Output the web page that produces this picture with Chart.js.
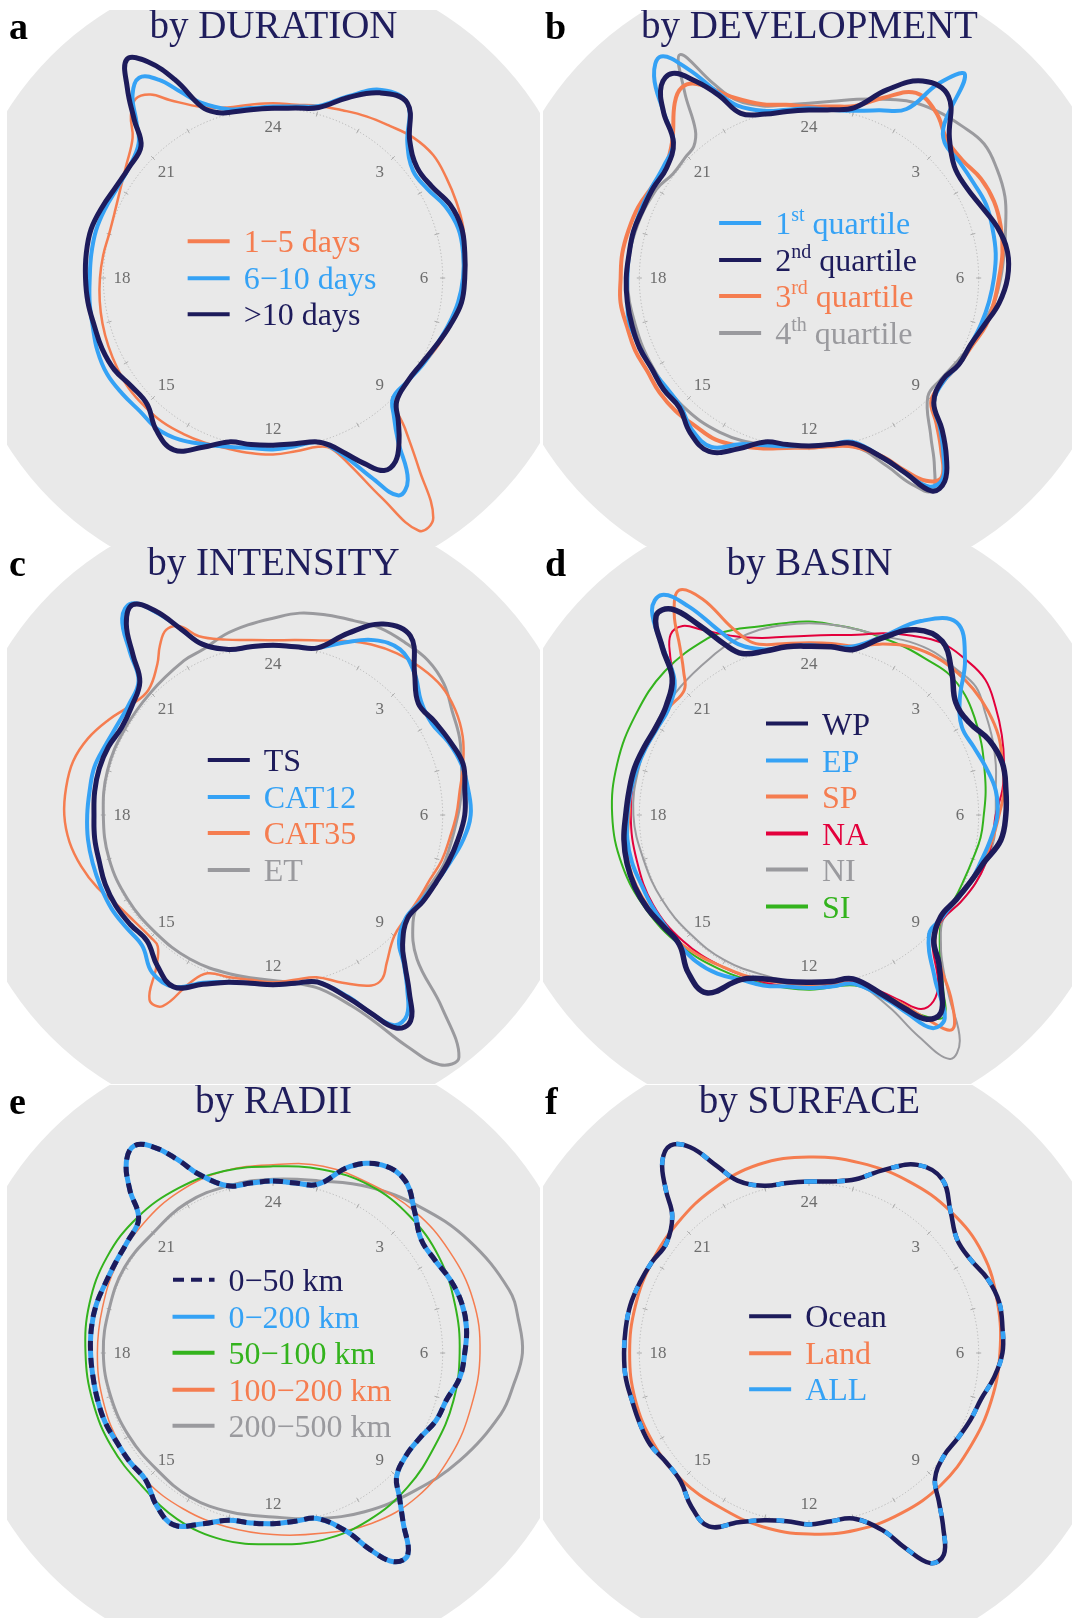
<!DOCTYPE html>
<html>
<head>
<meta charset="utf-8">
<title>Diurnal cycle by category</title>
<script src="https://cdn.jsdelivr.net/npm/chart.js@4.4.1/dist/chart.umd.min.js"></script>
<style>
  html, body { margin: 0; padding: 0; background: #ffffff; }
  body { position: relative; width: 1072px; height: 1618px; overflow: hidden;
         font-family: "Liberation Serif", "Times New Roman", serif; }
  .panel { position: absolute; width: 533px; height: 537px; overflow: hidden; }
  .panel canvas { position: absolute; left: 0; top: 0; }
  .letter { position: absolute; left: 2px; top: -3px; font-size: 38px; line-height: 38px; font-weight: bold; color: #000; }
  .title { position: absolute; left: 0; top: -5px; width: 533px; text-align: center; font-size: 39px; line-height: 39px; color: #1f1d5c; white-space: nowrap; }
  .legend { position: absolute; left: 275px; top: 268px; transform: translate(-50%, -50%); }
  .row { display: flex; align-items: center; height: 36.5px; font-size: 32px; line-height: 36.5px; white-space: nowrap; }
  .swatch { width: 42px; height: 4px; margin-right: 14px; flex: none; }
  .row sup { font-size: 20px; line-height: 0; vertical-align: 13px; }
</style>
</head>
<body>
<script>
// ---- data: radius of each diurnal curve as [hour, r] pairs
// (r = 1 is the dotted hour ring)

const clockHours = [24, 3, 6, 9, 12, 15, 18, 21];

// a: by DURATION
const durationNames = ['1\u22125 days', '6\u221210 days', '>10 days'];
const dur1to5 = [[0,1.03],[0.5,1.03],[1,1.05],[1.5,1.07],[2,1.10],[2.5,1.13],[3,1.17],[3.5,1.19],[4,1.18],[4.5,1.17],[5,1.16],[5.5,1.14],[6,1.12],[6.5,1.10],[7,1.08],[7.5,1.05],[8,1.02],[8.5,1.00],[9,1.01],[9.25,1.18],[9.5,1.41],[9.75,1.70],[10,1.72],[10.25,1.44],[10.5,1.20],[10.75,1.06],[11,1.03],[11.5,1.03],[12,1.04],[12.5,1.04],[13,1.04],[13.5,1.05],[14,1.06],[14.5,1.07],[15,1.07],[15.5,1.07],[16,1.06],[16.5,1.05],[17,1.04],[17.5,1.03],[18,1.02],[18.5,1.01],[19,1.00],[19.5,1.01],[20,1.04],[20.5,1.09],[21,1.17],[21.25,1.27],[21.5,1.33],[21.75,1.30],[22,1.21],[22.5,1.09],[23,1.04],[23.5,1.03]];
const dur6to10 = [[0,1.01],[0.5,1.02],[1,1.05],[1.5,1.16],[2,1.28],[2.5,1.30],[3,1.12],[3.5,1.04],[4,1.05],[4.5,1.10],[5,1.13],[5.5,1.13],[6,1.12],[6.5,1.10],[7,1.07],[7.5,1.04],[8,1.02],[8.5,1.00],[9,1.00],[9.25,1.08],[9.5,1.21],[9.75,1.43],[10,1.48],[10.25,1.31],[10.5,1.15],[10.75,1.05],[11,1.00],[11.5,1.00],[12,1.01],[12.5,1.01],[13,1.03],[13.5,1.06],[14,1.10],[14.5,1.12],[15,1.11],[15.5,1.12],[16,1.13],[16.5,1.12],[17,1.10],[17.5,1.09],[18,1.08],[18.5,1.08],[19,1.08],[19.5,1.07],[20,1.06],[20.5,1.07],[21,1.12],[21.25,1.22],[21.5,1.36],[21.75,1.42],[22,1.35],[22.25,1.22],[22.5,1.12],[23,1.03],[23.5,1.01]];
const dur10plus = [[0,1.00],[0.5,1.01],[1,1.04],[1.5,1.15],[2,1.26],[2.5,1.30],[3,1.14],[3.5,1.07],[4,1.08],[4.5,1.13],[5,1.15],[5.5,1.14],[6,1.13],[6.5,1.12],[7,1.08],[7.5,1.04],[8,1.01],[8.5,1.00],[9,1.03],[9.25,1.12],[9.5,1.22],[9.75,1.30],[10,1.31],[10.25,1.22],[10.5,1.12],[10.75,1.04],[11,1.00],[11.5,0.985],[12,0.985],[12.5,0.99],[13,1.00],[13.5,1.08],[14,1.17],[14.5,1.13],[15,1.05],[15.5,1.05],[16,1.08],[16.5,1.09],[17,1.09],[17.5,1.10],[18,1.105],[18.5,1.11],[19,1.11],[19.5,1.09],[20,1.07],[20.5,1.07],[21,1.10],[21.25,1.24],[21.5,1.41],[21.75,1.55],[22,1.47],[22.25,1.30],[22.5,1.09],[22.75,1.03],[23,1.01],[23.5,1.00]];

// b: by DEVELOPMENT
const devNames = ['1st quartile', '2nd quartile', '3rd quartile', '4th quartile'];
const devQ1 = [[0,1.00],[0.5,1.00],[1,1.02],[1.5,1.07],[2,1.15],[2.25,1.38],[2.5,1.51],[2.75,1.21],[3,1.13],[3.5,1.12],[4,1.12],[4.5,1.13],[5,1.12],[5.5,1.11],[6,1.09],[6.5,1.07],[7,1.05],[7.5,1.03],[8,1.02],[8.5,1.00],[9,1.04],[9.25,1.17],[9.5,1.30],[9.75,1.42],[10,1.42],[10.25,1.28],[10.5,1.15],[11,1.00],[11.5,0.99],[12,0.99],[12.5,1.00],[13,1.02],[13.5,1.06],[14,1.15],[14.5,1.13],[15,1.07],[15.5,1.06],[16,1.07],[17,1.09],[17.5,1.08],[18,1.07],[18.5,1.07],[19,1.07],[19.5,1.07],[20,1.07],[20.5,1.08],[21,1.13],[21.25,1.30],[21.5,1.50],[21.75,1.57],[22,1.42],[22.25,1.22],[22.5,1.10],[23,1.02],[23.5,1.00]];
const devQ2 = [[0,0.99],[0.5,1.00],[1,1.04],[1.5,1.20],[2,1.34],[2.5,1.35],[3,1.17],[3.5,1.08],[4,1.07],[4.5,1.10],[5,1.15],[5.5,1.18],[6,1.17],[6.5,1.13],[7,1.07],[7.5,1.03],[8,1.02],[8.5,0.99],[9,1.04],[9.25,1.19],[9.5,1.33],[9.75,1.44],[10,1.45],[10.25,1.28],[10.5,1.15],[11,1.01],[11.5,0.99],[12,0.99],[12.5,0.99],[13,1.00],[13.5,1.09],[14,1.18],[14.5,1.15],[15,1.08],[15.5,1.08],[16,1.07],[16.5,1.08],[17,1.08],[17.5,1.08],[18,1.077],[18.5,1.07],[19,1.07],[19.5,1.06],[20,1.06],[20.5,1.06],[21,1.13],[21.25,1.30],[21.5,1.43],[21.75,1.45],[22,1.34],[22.25,1.20],[22.5,1.05],[23,1.00],[23.5,0.99]];
const devQ3 = [[0,1.01],[0.5,1.02],[1,1.05],[1.5,1.15],[2,1.26],[2.5,1.23],[3,1.15],[3.5,1.14],[4,1.17],[4.5,1.18],[5,1.17],[5.5,1.15],[6,1.12],[6.5,1.10],[7,1.08],[7.5,1.04],[8,1.02],[8.5,1.00],[9,1.02],[9.25,1.14],[9.5,1.28],[9.75,1.41],[10,1.38],[10.25,1.26],[10.5,1.14],[11,1.03],[11.5,1.00],[12,1.00],[12.5,1.01],[13,1.04],[13.5,1.07],[14,1.10],[14.5,1.10],[15,1.11],[15.5,1.11],[16,1.10],[16.5,1.11],[17,1.11],[17.5,1.12],[18,1.11],[18.5,1.11],[19,1.10],[19.5,1.09],[20,1.07],[20.5,1.07],[21,1.14],[21.5,1.30],[21.75,1.35],[22,1.32],[22.5,1.15],[23,1.06],[23.5,1.03]];
const devQ4 = [[0,1.03],[0.5,1.05],[1,1.09],[1.5,1.14],[2,1.20],[2.5,1.24],[3,1.27],[3.5,1.30],[4,1.28],[4.5,1.25],[5,1.20],[5.5,1.16],[6,1.13],[6.5,1.10],[7,1.06],[7.5,1.03],[8,1.00],[8.5,0.98],[9,0.99],[9.5,1.18],[9.75,1.33],[10,1.45],[10.25,1.35],[10.5,1.20],[11,1.03],[12,1.00],[13,1.02],[14,1.05],[15,1.06],[16,1.06],[17,1.06],[18,1.07],[19,1.06],[20,1.04],[20.5,1.01],[21,1.02],[21.25,1.03],[21.5,1.10],[21.75,1.32],[22,1.52],[22.25,1.28],[22.5,1.14],[23,1.05],[23.5,1.03]];

// c: by INTENSITY
const intensityNames = ['TS', 'CAT12', 'CAT35', 'ET'];
const intTS = [[0,1.00],[0.5,1.00],[1,1.02],[1.5,1.16],[2,1.30],[2.5,1.33],[3,1.18],[3.5,1.08],[4,1.10],[4.5,1.13],[5,1.16],[5.5,1.14],[6,1.13],[6.5,1.10],[7,1.07],[7.5,1.04],[8,1.02],[8.5,1.00],[9,1.08],[9.25,1.18],[9.5,1.32],[9.75,1.46],[10,1.45],[10.25,1.30],[10.5,1.17],[11,1.02],[11.5,1.00],[12,1.00],[12.5,1.00],[13,1.02],[13.5,1.08],[14,1.17],[14.5,1.12],[15,1.05],[15.5,1.06],[16,1.07],[16.5,1.07],[17,1.06],[17.5,1.06],[18,1.055],[18.5,1.06],[19,1.06],[19.5,1.05],[20,1.03],[20.5,1.05],[21,1.11],[21.25,1.25],[21.5,1.42],[21.75,1.49],[22,1.39],[22.25,1.22],[22.5,1.09],[23,1.01],[23.5,1.00]];
const intCAT12 = [[0,1.00],[0.5,1.00],[1,1.02],[1.5,1.10],[2,1.19],[2.5,1.23],[3,1.18],[3.5,1.10],[4,1.08],[4.5,1.12],[5,1.15],[5.5,1.16],[6,1.165],[6.5,1.13],[7,1.08],[7.5,1.04],[8,1.01],[8.5,0.99],[9,1.05],[9.25,1.17],[9.5,1.30],[9.75,1.42],[10,1.43],[10.25,1.30],[10.5,1.16],[11,1.02],[11.5,1.00],[12,1.00],[12.5,1.00],[13,1.02],[13.5,1.07],[14,1.17],[14.5,1.17],[15,1.09],[15.5,1.09],[16,1.10],[16.5,1.10],[17,1.10],[17.5,1.10],[18,1.095],[18.5,1.09],[19,1.09],[19.5,1.07],[20,1.06],[20.5,1.07],[21,1.12],[21.25,1.28],[21.5,1.46],[21.75,1.50],[22,1.38],[22.25,1.22],[22.5,1.09],[23,1.01],[23.5,1.00]];
const intCAT35 = [[0,1.03],[0.5,1.04],[1,1.065],[1.5,1.11],[2,1.16],[2.5,1.20],[3,1.23],[3.5,1.25],[4,1.24],[4.5,1.21],[5,1.16],[5.5,1.11],[6,1.08],[6.5,1.05],[7,1.03],[7.5,1.00],[8,0.99],[8.5,0.99],[9,1.01],[9.5,1.10],[9.75,1.16],[10,1.16],[10.5,1.07],[11,0.99],[11.5,0.98],[12,0.985],[12.5,0.98],[13,0.99],[13.5,1.01],[13.75,1.10],[14,1.30],[14.25,1.31],[14.5,1.13],[14.75,1.03],[15,1.02],[15.5,1.03],[16,1.06],[16.5,1.12],[17,1.17],[17.5,1.21],[18,1.23],[18.5,1.23],[19,1.22],[19.5,1.18],[20,1.12],[20.5,1.06],[21,1.04],[21.5,1.12],[21.75,1.20],[22,1.26],[22.25,1.24],[22.5,1.14],[23,1.07],[23.5,1.04]];
const intET = [[0,1.16],[0.5,1.20],[1,1.22],[1.5,1.24],[2,1.27],[2.5,1.28],[3,1.29],[3.5,1.27],[4,1.22],[4.5,1.19],[5,1.15],[5.5,1.12],[6,1.09],[7,1.05],[7.5,1.02],[8,1.00],[8.5,1.04],[9,1.20],[9.25,1.51],[9.5,1.80],[9.75,1.77],[10,1.57],[10.25,1.36],[10.5,1.22],[11,1.06],[11.5,1.00],[12,0.975],[13,0.97],[14,0.98],[15,0.98],[16,0.99],[17,1.00],[18,1.00],[19,1.01],[20,1.01],[21,1.02],[22,1.05],[22.5,1.06],[23,1.10],[23.5,1.13]];

// d: by BASIN
const basinNames = ['WP', 'EP', 'SP', 'NA', 'NI', 'SI'];
const basinWP = [[0,0.995],[0.5,1.00],[1,1.01],[1.5,1.13],[2,1.26],[2.5,1.29],[3,1.19],[3.5,1.09],[4,1.09],[4.5,1.15],[5,1.18],[5.5,1.17],[6,1.16],[6.5,1.14],[7,1.07],[7.5,1.03],[8,1.00],[8.5,0.98],[9,1.04],[9.25,1.16],[9.5,1.28],[9.75,1.40],[10,1.39],[10.25,1.27],[10.5,1.15],[11,1.00],[11.5,0.99],[12,0.985],[12.5,0.99],[13,1.00],[13.5,1.05],[14,1.21],[14.5,1.17],[15,1.08],[15.5,1.08],[16,1.10],[16.5,1.11],[17,1.11],[17.5,1.10],[18,1.08],[18.5,1.07],[19,1.065],[19.5,1.05],[20,1.04],[20.5,1.06],[21,1.14],[21.25,1.31],[21.5,1.48],[21.75,1.46],[22,1.29],[22.25,1.12],[22.5,1.03],[23,1.00],[23.5,1.00]];
const basinEP = [[0,1.00],[0.5,1.00],[1,1.03],[1.5,1.14],[2,1.32],[2.5,1.43],[3,1.30],[3.5,1.12],[4,1.04],[4.5,1.05],[5,1.08],[5.5,1.11],[6,1.11],[6.5,1.08],[7,1.05],[7.5,1.03],[8,1.00],[8.5,0.99],[9,1.00],[9.5,1.22],[9.75,1.44],[10,1.45],[10.25,1.30],[10.5,1.17],[11,1.03],[11.5,1.02],[12,1.02],[12.5,1.02],[13,1.04],[13.5,1.05],[14,1.08],[14.5,1.09],[15,1.08],[15.5,1.07],[16,1.07],[16.5,1.07],[17,1.08],[17.5,1.08],[18,1.07],[18.5,1.06],[19,1.05],[19.5,1.04],[20,1.03],[20.5,1.04],[21,1.12],[21.25,1.30],[21.5,1.52],[21.75,1.56],[22,1.42],[22.25,1.22],[22.5,1.09],[23,1.01],[23.5,1.00]];
const basinSP = [[0,1.015],[0.5,1.02],[1,1.03],[1.5,1.09],[2,1.15],[2.5,1.19],[3,1.21],[3.5,1.22],[4,1.22],[4.5,1.21],[5,1.18],[5.5,1.16],[6,1.12],[6.5,1.09],[7,1.06],[7.5,1.03],[8,1.00],[8.5,0.99],[9,1.05],[9.25,1.17],[9.5,1.38],[9.75,1.52],[10,1.39],[10.25,1.24],[10.5,1.15],[11,1.03],[11.5,1.00],[12,1.00],[12.5,1.00],[13,1.01],[13.5,1.02],[14,1.03],[14.5,1.05],[15,1.07],[15.5,1.08],[16,1.09],[16.5,1.10],[17,1.10],[17.5,1.08],[18,1.06],[18.5,1.06],[19,1.06],[19.5,1.05],[20,1.04],[20.5,1.04],[21,1.04],[21.25,1.12],[21.5,1.25],[21.75,1.43],[22,1.53],[22.25,1.42],[22.5,1.20],[22.75,1.08],[23,1.04],[23.5,1.02]];
const basinNA = [[0,1.057],[0.5,1.07],[1,1.10],[1.5,1.16],[2,1.22],[2.5,1.28],[3,1.30],[3.5,1.31],[4,1.27],[4.5,1.23],[5,1.19],[5.5,1.15],[6,1.10],[6.5,1.09],[7,1.08],[7.5,1.06],[8,1.03],[8.5,1.00],[9,1.03],[9.5,1.25],[9.75,1.32],[10,1.32],[10.25,1.22],[10.5,1.13],[11,1.02],[12,1.02],[13,1.02],[14,1.03],[15,1.05],[16,1.06],[17,1.05],[18,1.05],[19,1.05],[20,1.03],[20.5,1.05],[21,1.13],[21.25,1.24],[21.5,1.34],[21.75,1.34],[22,1.26],[22.5,1.14],[23,1.08],[23.5,1.06]];
const basinNI = [[0,1.13],[0.5,1.13],[1,1.13],[1.5,1.14],[2,1.18],[2.5,1.21],[3,1.22],[3.5,1.24],[4,1.20],[4.5,1.17],[5,1.14],[5.5,1.11],[6,1.10],[6.5,1.10],[7,1.08],[7.5,1.06],[8,1.03],[8.5,1.00],[9,1.10],[9.25,1.20],[9.5,1.36],[9.75,1.60],[10,1.66],[10.25,1.45],[10.5,1.22],[11,1.03],[12,1.00],[13,0.98],[14,0.99],[15,0.99],[16,1.00],[17,1.01],[18,1.035],[19,1.04],[20,1.05],[21,1.07],[22,1.10],[22.5,1.12],[23,1.13],[23.5,1.13]];
const basinSI = [[0,1.14],[0.5,1.13],[1,1.13],[1.5,1.13],[2,1.14],[2.5,1.15],[3,1.17],[3.5,1.16],[4,1.13],[4.5,1.10],[5,1.07],[5.5,1.05],[6,1.03],[6.5,1.02],[7,1.00],[7.5,0.99],[8,0.99],[8.5,0.99],[9,1.09],[9.5,1.30],[9.75,1.43],[10,1.37],[10.5,1.16],[11,1.04],[12,1.03],[13,1.03],[14,1.05],[15,1.08],[16,1.11],[17,1.14],[18,1.16],[19,1.17],[20,1.18],[21,1.20],[22,1.20],[22.5,1.18],[23,1.15],[23.5,1.14]];

// e: by RADII
const radiiNames = ['0\u221250 km', '0\u2212200 km', '50\u2212100 km', '100\u2212200 km', '200\u2212500 km'];
const radii0to50 = [[0,1.014],[0.5,1.01],[1,1.03],[1.5,1.19],[2,1.28],[2.5,1.28],[3,1.18],[3.5,1.10],[4,1.10],[4.5,1.13],[5,1.15],[5.5,1.15],[6,1.13],[6.5,1.11],[7,1.06],[7.5,1.04],[8,1.00],[8.5,0.99],[9,1.03],[9.25,1.13],[9.5,1.26],[9.75,1.43],[10,1.42],[10.25,1.29],[10.5,1.14],[11,1.01],[11.5,1.00],[12,1.006],[12.5,1.01],[13,1.02],[13.5,1.09],[14,1.17],[14.5,1.13],[15,1.06],[15.5,1.06],[16,1.06],[16.5,1.07],[17,1.07],[17.5,1.07],[18,1.075],[18.5,1.08],[19,1.08],[19.5,1.07],[20,1.07],[20.5,1.08],[21,1.12],[21.25,1.28],[21.5,1.42],[21.75,1.47],[22,1.40],[22.25,1.27],[22.5,1.14],[23,1.02],[23.5,1.01]];
const radii0to200 = [[0,1.014],[0.5,1.01],[1,1.03],[1.5,1.19],[2,1.28],[2.5,1.28],[3,1.18],[3.5,1.10],[4,1.10],[4.5,1.13],[5,1.15],[5.5,1.15],[6,1.13],[6.5,1.11],[7,1.06],[7.5,1.04],[8,1.00],[8.5,0.99],[9,1.03],[9.25,1.13],[9.5,1.26],[9.75,1.43],[10,1.42],[10.25,1.29],[10.5,1.14],[11,1.01],[11.5,1.00],[12,1.006],[12.5,1.01],[13,1.02],[13.5,1.09],[14,1.17],[14.5,1.13],[15,1.06],[15.5,1.06],[16,1.06],[16.5,1.07],[17,1.07],[17.5,1.07],[18,1.075],[18.5,1.08],[19,1.08],[19.5,1.07],[20,1.07],[20.5,1.08],[21,1.12],[21.25,1.28],[21.5,1.42],[21.75,1.47],[22,1.40],[22.25,1.27],[22.5,1.14],[23,1.02],[23.5,1.01]];
const radii50to100 = [[0,1.10],[1,1.12],[2,1.14],[3,1.14],[4,1.13],[5,1.11],[6,1.10],[7,1.10],[8,1.10],[9,1.12],[10,1.135],[11,1.14],[12,1.127],[13,1.14],[14,1.13],[15,1.10],[16,1.10],[17,1.10],[18,1.105],[19,1.12],[20,1.13],[21,1.13],[22,1.12],[23,1.11]];
const radii100to200 = [[0,1.11],[1,1.14],[2,1.15],[3,1.18],[4,1.20],[5,1.22],[6,1.22],[7,1.21],[8,1.21],[9,1.20],[10,1.16],[11,1.10],[12,1.07],[13,1.06],[14,1.06],[15,1.06],[16,1.05],[17,1.04],[18,1.035],[19,1.04],[20,1.06],[21,1.08],[22,1.10],[23,1.11]];
const radii200to500 = [[0,1.024],[1,1.05],[2,1.13],[3,1.22],[4,1.33],[5,1.44],[5.5,1.46],[6,1.47],[6.5,1.43],[7,1.39],[8,1.27],[9,1.16],[10,1.08],[11,1.01],[12,0.966],[13,0.97],[14,0.98],[15,0.97],[16,0.98],[17,0.99],[18,1.00],[19,1.00],[20,1.01],[21,1.00],[22,1.02],[23,1.02]];

// f: by SURFACE
const surfaceNames = ['Ocean', 'Land', 'ALL'];
const surfOcean = [[0,1.01],[0.5,1.02],[1,1.06],[1.5,1.17],[2,1.28],[2.5,1.29],[3,1.18],[3.5,1.10],[4,1.10],[4.5,1.14],[5,1.16],[5.5,1.15],[6,1.14],[6.5,1.10],[7,1.05],[7.5,1.03],[8,1.01],[8.5,1.00],[9,1.05],[9.25,1.16],[9.5,1.30],[9.75,1.43],[10,1.43],[10.25,1.28],[10.5,1.13],[11,1.01],[11.5,1.00],[12,1.01],[12.5,1.00],[13,1.02],[13.5,1.08],[14,1.18],[14.5,1.14],[15,1.07],[15.5,1.06],[16,1.08],[16.5,1.08],[17,1.08],[17.5,1.09],[18,1.09],[18.5,1.09],[19,1.09],[19.5,1.08],[20,1.07],[20.5,1.06],[21,1.14],[21.25,1.28],[21.5,1.42],[21.75,1.47],[22,1.40],[22.25,1.23],[22.5,1.10],[23,1.02],[23.5,1.01]];
const surfLand = [[0,1.155],[1,1.16],[2,1.17],[3,1.18],[4,1.18],[5,1.15],[6,1.125],[7,1.11],[8,1.10],[9,1.10],[10,1.09],[11,1.08],[12,1.067],[13,1.06],[14,1.05],[15,1.06],[16,1.06],[17,1.06],[18,1.057],[19,1.06],[20,1.07],[21,1.09],[22,1.12],[23,1.15]];
const surfAll = [[0,1.01],[0.5,1.02],[1,1.06],[1.5,1.17],[2,1.28],[2.5,1.29],[3,1.18],[3.5,1.10],[4,1.10],[4.5,1.14],[5,1.16],[5.5,1.15],[6,1.14],[6.5,1.10],[7,1.05],[7.5,1.03],[8,1.01],[8.5,1.00],[9,1.05],[9.25,1.16],[9.5,1.30],[9.75,1.43],[10,1.43],[10.25,1.28],[10.5,1.13],[11,1.01],[11.5,1.00],[12,1.01],[12.5,1.00],[13,1.02],[13.5,1.08],[14,1.18],[14.5,1.14],[15,1.07],[15.5,1.06],[16,1.08],[16.5,1.08],[17,1.08],[17.5,1.09],[18,1.09],[18.5,1.09],[19,1.09],[19.5,1.08],[20,1.07],[20.5,1.06],[21,1.14],[21.25,1.28],[21.5,1.42],[21.75,1.47],[22,1.40],[22.25,1.23],[22.5,1.10],[23,1.02],[23.5,1.01]];

// ---- look
const NAVY = '#1d1b5b';
const BLUE = '#35a2f5';
const ORANGE = '#f57d50';
const GRAY = '#9a9a9e';
const RED = '#e3003c';
const GREEN = '#33b31d';

const PANEL_W = 533, PANEL_H = 537;
const RING_PX = 170;        // pixel radius of the dotted hour ring (r = 1)
const DISC_R = 1.85;        // grey background disc, in ring units
const LABEL_R = 0.89;       // where the hour numbers sit
const SLOTS_PER_HOUR = 4;   // one angular slot every quarter hour
const slotHours = Array.from({ length: 24 * SLOTS_PER_HOUR }, (_, i) => i / SLOTS_PER_HOUR);

const panels = [
  { letter: 'a', title: 'by DURATION', left: 7, top: 10, series: [
    { name: durationNames[0], values: dur1to5, color: ORANGE, width: 2.5, order: 2 },
    { name: durationNames[1], values: dur6to10, color: BLUE, width: 4, order: 1 },
    { name: durationNames[2], values: dur10plus, color: NAVY, width: 5, order: 0 } ] },
  { letter: 'b', title: 'by DEVELOPMENT', left: 543, top: 10, series: [
    { name: devNames[0], values: devQ1, color: BLUE, width: 4, order: 1 },
    { name: devNames[1], values: devQ2, color: NAVY, width: 5, order: 0 },
    { name: devNames[2], values: devQ3, color: ORANGE, width: 4, order: 2 },
    { name: devNames[3], values: devQ4, color: GRAY, width: 3, order: 3 } ] },
  { letter: 'c', title: 'by INTENSITY', left: 7, top: 547, series: [
    { name: intensityNames[0], values: intTS, color: NAVY, width: 5, order: 0 },
    { name: intensityNames[1], values: intCAT12, color: BLUE, width: 4, order: 1 },
    { name: intensityNames[2], values: intCAT35, color: ORANGE, width: 2.5, order: 2 },
    { name: intensityNames[3], values: intET, color: GRAY, width: 3, order: 3 } ] },
  { letter: 'd', title: 'by BASIN', left: 543, top: 547, series: [
    { name: basinNames[0], values: basinWP, color: NAVY, width: 5.5, order: 0 },
    { name: basinNames[1], values: basinEP, color: BLUE, width: 4, order: 1 },
    { name: basinNames[2], values: basinSP, color: ORANGE, width: 3, order: 2 },
    { name: basinNames[3], values: basinNA, color: RED, width: 2, order: 3 },
    { name: basinNames[4], values: basinNI, color: GRAY, width: 2, order: 4 },
    { name: basinNames[5], values: basinSI, color: GREEN, width: 2, order: 5 } ] },
  { letter: 'e', title: 'by RADII', left: 7, top: 1085, series: [
    { name: radiiNames[0], values: radii0to50, color: NAVY, width: 5, order: 0, dash: [10, 7], legendDash: true },
    { name: radiiNames[1], values: radii0to200, color: BLUE, width: 5, order: 1 },
    { name: radiiNames[2], values: radii50to100, color: GREEN, width: 2, order: 2 },
    { name: radiiNames[3], values: radii100to200, color: ORANGE, width: 1.5, order: 3 },
    { name: radiiNames[4], values: radii200to500, color: GRAY, width: 3, order: 4 } ] },
  { letter: 'f', title: 'by SURFACE', left: 543, top: 1085, series: [
    { name: surfaceNames[0], values: surfOcean, color: NAVY, width: 4.5, order: 1 },
    { name: surfaceNames[1], values: surfLand, color: ORANGE, width: 3, order: 2 },
    { name: surfaceNames[2], values: surfAll, color: BLUE, width: 4.5, order: 0, dash: [8, 20] } ] }
];

// spread [hour, r] readings over the quarter-hour slots, leaving unread slots empty
function toSlots(pairs) {
  const out = new Array(slotHours.length).fill(null);
  pairs.forEach(([h, r]) => { out[Math.round(h * SLOTS_PER_HOUR) % slotHours.length] = r; });
  return out;
}

function escapeText(s) {
  return s.replace(/&/g, '&amp;').replace(/</g, '&lt;').replace(/>/g, '&gt;');
}

// grey disc, dotted hour ring, hour ticks and numbers, all placed through the radial scale
const clockFace = {
  id: 'clockFace',
  beforeDatasetsDraw(chart) {
    const s = chart.scales.r;
    const ctx = chart.ctx;
    ctx.save();
    ctx.beginPath();
    ctx.arc(s.xCenter, s.yCenter, s.getDistanceFromCenterForValue(DISC_R), 0, Math.PI * 2);
    ctx.fillStyle = '#e9e9e9';
    ctx.fill();

    const ring = s.getDistanceFromCenterForValue(1);
    ctx.beginPath();
    ctx.arc(s.xCenter, s.yCenter, ring, 0, Math.PI * 2);
    ctx.setLineDash([1.2, 2.2]);
    ctx.strokeStyle = '#a9a9a9';
    ctx.lineWidth = 0.8;
    ctx.stroke();
    ctx.setLineDash([]);

    ctx.strokeStyle = '#9c9c9c';
    for (let h = 0; h < 24; h++) {
      const a = s.getPointPosition(h * SLOTS_PER_HOUR, ring - 2.5);
      const b = s.getPointPosition(h * SLOTS_PER_HOUR, ring + 2.5);
      ctx.beginPath();
      ctx.moveTo(a.x, a.y);
      ctx.lineTo(b.x, b.y);
      ctx.stroke();
    }

    ctx.fillStyle = '#6e6e6e';
    ctx.font = '17px "Liberation Serif", serif';
    ctx.textAlign = 'center';
    ctx.textBaseline = 'middle';
    clockHours.forEach((h) => {
      const p = s.getPointPositionForValue((h % 24) * SLOTS_PER_HOUR, LABEL_R);
      ctx.fillText(String(h), p.x, p.y + 1);
    });
    ctx.restore();
  }
};

panels.forEach((p) => {
  const box = document.createElement('div');
  box.className = 'panel';
  box.style.left = p.left + 'px';
  box.style.top = p.top + 'px';

  const canvas = document.createElement('canvas');
  canvas.width = PANEL_W;
  canvas.height = PANEL_H;
  box.appendChild(canvas);

  const letter = document.createElement('div');
  letter.className = 'letter';
  letter.textContent = p.letter;
  box.appendChild(letter);

  const title = document.createElement('div');
  title.className = 'title';
  title.textContent = p.title;
  box.appendChild(title);

  // legend in the middle of the clock
  const legend = document.createElement('div');
  legend.className = 'legend';
  p.series.forEach((s) => {
    const row = document.createElement('div');
    row.className = 'row';
    row.style.color = s.color;
    const sw = document.createElement('div');
    sw.className = 'swatch';
    sw.style.background = s.legendDash
      ? 'repeating-linear-gradient(90deg, ' + s.color + ' 0 11px, transparent 11px 18px)'
      : s.color;
    row.appendChild(sw);
    const label = document.createElement('span');
    label.innerHTML = escapeText(s.name).replace(/^(\d)(st|nd|rd|th)/, '$1<sup>$2</sup>');
    row.appendChild(label);
    legend.appendChild(row);
  });
  box.appendChild(legend);
  document.body.appendChild(box);

  new Chart(canvas, {
    type: 'radar',
    data: {
      labels: slotHours,
      datasets: p.series.map((s) => ({
        label: s.name,
        data: toSlots(s.values),
        borderColor: s.color,
        borderWidth: s.width,
        borderDash: s.dash || [],
        backgroundColor: 'transparent',
        fill: false,
        pointRadius: 0,
        pointHitRadius: 0,
        tension: 0.4,
        spanGaps: true,
        clip: false,
        order: s.order
      }))
    },
    options: {
      responsive: false,
      animation: false,
      devicePixelRatio: 1,
      events: [],
      layout: { padding: 0 },
      plugins: { legend: { display: false }, tooltip: { enabled: false } },
      scales: {
        r: {
          min: 0,
          max: PANEL_W / 2 / RING_PX,
          startAngle: 0,
          grid: { display: false },
          angleLines: { display: false },
          ticks: { display: false },
          pointLabels: { display: false }
        }
      }
    },
    plugins: [clockFace]
  });
});
</script>
</body>
</html>
